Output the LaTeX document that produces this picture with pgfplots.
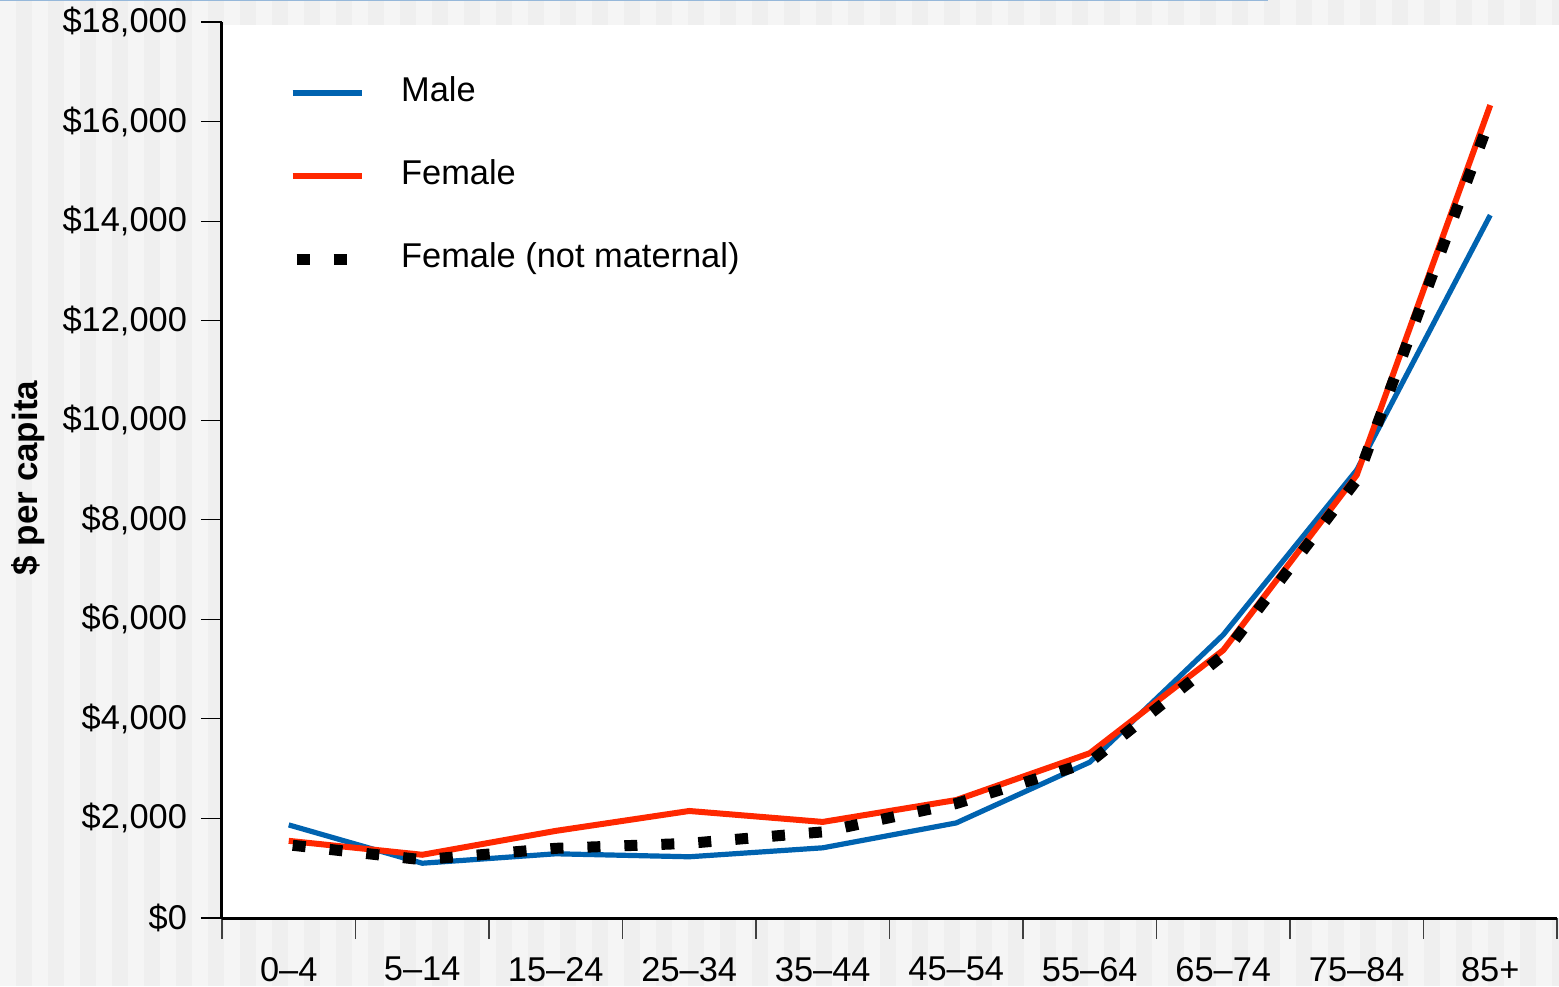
\documentclass[border=0pt]{standalone}
\usepackage{pgfplots}
\pgfplotsset{compat=1.18}
\usepackage{fontspec}
\setmainfont{Liberation Sans}
\definecolor{mblue}{RGB}{0,99,176}
\definecolor{fred}{RGB}{255,40,0}
\definecolor{bgA}{RGB}{245,245,245}
\definecolor{bgB}{RGB}{239,239,239}
\definecolor{topblue}{RGB}{150,184,218}
\begin{document}
\begin{tikzpicture}
\useasboundingbox (-111pt,-34pt) rectangle (668.5pt,459pt);
\fill[bgA] (-111pt,-34pt) rectangle (668.5pt,459pt);
\foreach \i in {0,...,49} {
  \fill[bgB] ({-111pt+8pt+16pt*\i},-34pt) rectangle ({-111pt+16pt+16pt*\i},459pt);
}
\fill[white] (0,0) rectangle (668.5pt,446.5pt);
\draw[topblue,line width=1pt] (-111pt,458.8pt) -- (523pt,458.8pt);
\begin{axis}[
  at={(0,0)}, anchor=south west,
  scale only axis,
  width=667.5pt, height=448pt,
  xmin=0, xmax=10, ymin=0, ymax=18000,
  axis x line*=bottom, axis y line*=left,
  axis line style={line width=1.5pt,-},
  tick align=outside,
  xtick={0,...,10}, xticklabels={},
  extra x ticks={0.5,1.5,...,9.5},
  extra x tick labels={0–4,5–14,15–24,25–34,35–44,45–54,55–64,65–74,75–84,85+},
  extra x tick style={major tick length=0pt, tick style={draw=none}},
  x tick style={line width=0.6pt, color=black!75},
  major tick length=10.5pt,
  ytick={0,2000,...,18000},
  yticklabels={{\$0},{\$2,000},{\$4,000},{\$6,000},{\$8,000},{\$10,000},{\$12,000},{\$14,000},{\$16,000},{\$18,000}},
  y tick style={line width=0.6pt, color=black},
  tick label style={font=\fontsize{17.2}{20}\selectfont},
  xticklabel style={yshift=-16pt},
  yticklabel style={xshift=-3.5pt},
  ylabel={\$ per capita},
  ylabel style={at={(axis description cs:-0.1453,0.491)}, anchor=center, font=\fontsize{17.5}{20}\selectfont\bfseries},
  clip=false,
  legend cell align=left,
  legend style={at={(axis description cs:0.044,0.944)}, anchor=north west, draw=none, fill=none,
    font=\fontsize{17.2}{20}\selectfont, row sep=25pt,
    nodes={inner ysep=0pt, text height=12.5pt, text depth=4pt},
    /tikz/every odd column/.append style={column sep=15pt}},
  legend image code/.code={\draw[#1] (0pt,0pt) -- (34.5pt,0pt);},
]
\addplot[mblue, line width=2.6pt] coordinates {
(0.5,1870) (1.5,1100) (2.5,1290) (3.5,1230) (4.5,1410) (5.5,1910) (6.5,3130) (7.5,5690) (8.5,9000) (9.5,14120)};
\addlegendentry{Male}
\addplot[fred, line width=3pt] coordinates {
(0.5,1550) (1.5,1270) (2.5,1750) (3.5,2150) (4.5,1930) (5.5,2370) (6.5,3310) (7.5,5380) (8.5,8900) (9.5,16330)};
\addlegendentry{Female}
\addplot[black, line width=5.5pt, dash pattern=on 6.5pt off 12pt, dash phase=-2pt] coordinates {
(0.5,1470) (1.5,1170) (2.5,1400) (3.5,1500) (4.5,1730) (5.5,2300) (6.5,3130) (7.5,5280) (8.5,8800) (9.5,16070)};
\addlegendentry{Female (not maternal)}
\end{axis}
\end{tikzpicture}
\end{document}
